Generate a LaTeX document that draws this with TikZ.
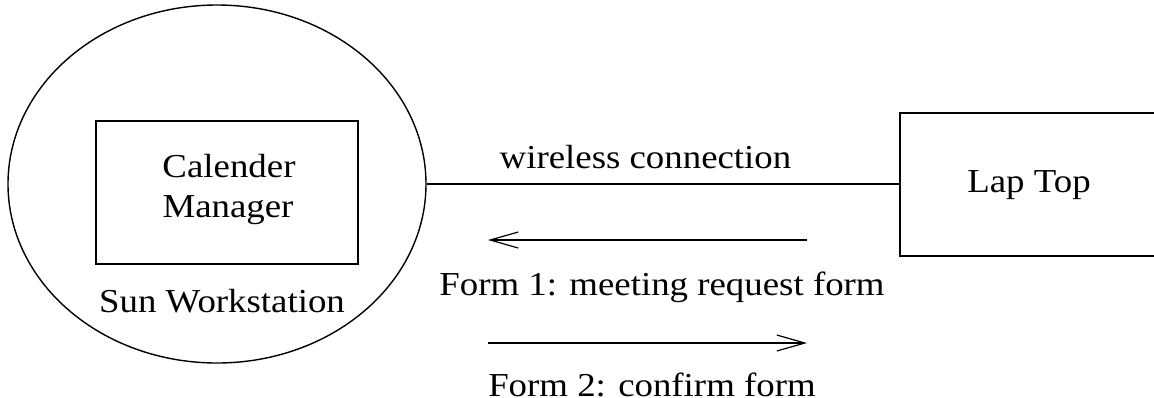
\documentclass[tikz,border=0pt]{standalone}
\usepackage{fontspec}
\setmainfont{Liberation Serif}[FakeStretch=1.1]
\usetikzlibrary{shapes.geometric,arrows.meta}
\begin{document}
\begin{tikzpicture}[x=1pt,y=-1pt,
  every node/.style={font=\fontsize{33.5}{40}\selectfont, inner sep=0pt},
  lbl/.style={anchor=base},
  ln/.style={line width=1.4pt},
  box/.style={draw, line width=1.2pt, rectangle},
  tip/.style={-{Straight Barb[length=28pt,width=16pt,line width=1.2pt]}}]
\useasboundingbox (0,0) rectangle (1154,397);
\node[draw, ln, ellipse, minimum width=418pt, minimum height=358pt] (ws) at (217,184) {};
\node[box, minimum width=262pt, minimum height=143pt] (cm) at (227,192.5) {};
\node[lbl] (cmt1) at (229,177) {Calender};
\node[lbl] (cmt2) at (228,217) {Manager};
\node[lbl] (wst) at (222,312) {Sun Workstation};
\node[box, minimum width=270pt, minimum height=143pt] (lap) at (1035,184.5) {};
\node[lbl] (lapt) at (1029,192) {Lap Top};
\draw[ln] (ws.east) -- (ws.east -| lap.west);
\node[lbl] (wc) at (645.5,168) {wireless connection};
\coordinate (a1s) at (807,240);
\coordinate (a1e) at (488,240);
\draw[ln, tip] (a1s) -- (a1e);
\node[lbl] (f1) at (662,295) {Form 1: meeting request form};
\coordinate (a2s) at (488,343);
\coordinate (a2e) at (807,343);
\draw[ln, tip] (a2s) -- (a2e);
\node[lbl] (f2) at (652,396) {Form 2: confirm form};
\end{tikzpicture}
\end{document}
